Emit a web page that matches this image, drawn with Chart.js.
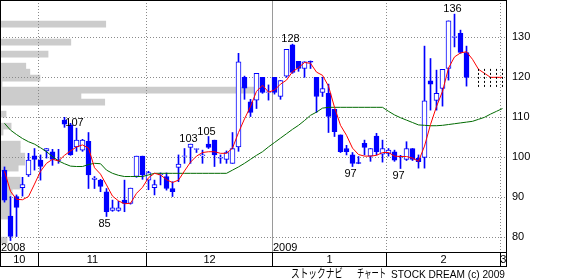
<!DOCTYPE html>
<html><head><meta charset="utf-8">
<script src="https://cdn.jsdelivr.net/npm/chart.js@4.4.0/dist/chart.umd.min.js"></script>
<style>html,body{margin:0;padding:0;background:#fff;overflow:hidden}#wrap{position:relative;width:584px;height:280px}</style>
</head><body><div id="wrap"><canvas id="c" width="584" height="280"></canvas></div>
<script>
// ---- daily candles (index 0 = 2008/10/24) ----
const open  = [96.8,85.3,90.2,92.4,95.6,100.4,99.3,101.6,101.4,99.4, 109.3,108.1,102.6,101.8,104.0,94.5,94.3,91.4,86.7,86.7, 89.3,88.5,95.2,100.3,94.3,92.4,95.6,95.2,92.2,97.5, 100.2,102.5,102.0,100.4,103.3,104.3,99.8,99.5,98.5,102.6, 120.0,113.9,114.3,120.0,116.2,120.0,115.2,120.3,128.1,124.0, 122.2,124.0,120.0,116.2,116.0,112.0,105.6,102.2,100.6,98.7, 103.5,100.3,105.3,100.8,101.0,101.4,100.3,99.5,102.2,99.8, 100.0,119.1,114.2,117.2,122.2,130.0,131.0,126.2];
const high  = [97.6,90.2,90.6,95.0,101.0,102.2,100.6,102.2,102.0,102.0, 110.0,108.5,107.3,104.5,106.2,95.2,94.5,92.2,89.3,89.0, 94.3,92.3,100.3,100.3,96.5,94.3,96.1,96.1,93.9,100.6, 102.2,103.3,102.2,101.8,105.2,104.3,100.6,101.6,106.2,126.0, 120.3,114.5,121.0,120.0,118.1,120.0,119.2,127.0,128.3,124.0, 123.9,124.1,120.0,120.0,118.3,112.0,105.6,103.0,101.2,100.2, 104.3,102.2,106.0,104.3,102.2,101.8,100.5,103.9,102.2,100.6, 127.8,124.7,121.8,122.0,134.1,135.8,131.8,127.8];
const low   = [88.8,79.2,80.2,90.3,95.2,96.8,94.3,99.8,98.0,98.5, 107.5,100.5,101.5,101.5,92.2,92.2,91.4,85.2,86.5,86.5, 86.4,88.3,95.0,94.5,91.9,90.6,93.1,91.8,90.2,93.9, 98.5,98.5,101.2,98.5,102.2,97.7,98.5,98.5,98.5,101.5, 114.5,110.2,112.2,116.0,114.3,115.8,114.5,120.0,121.0,121.5, 120.0,122.2,111.2,115.2,106.2,105.2,101.2,100.6,97.7,98.4, 100.6,99.0,100.6,98.8,100.3,99.0,97.2,99.2,99.2,97.3, 97.3,111.8,111.8,112.8,119.3,127.6,126.0,117.8];
const close = [89.3,80.2,87.5,93.2,99.3,99.5,97.7,102.2,99.5,99.2, 108.3,100.6,104.3,104.3,95.6,94.8,92.7,86.4,87.4,87.4, 88.5,92.3,100.3,95.6,96.2,93.2,95.8,92.2,91.4,98.3, 100.4,103.3,102.2,100.6,102.5,100.6,100.0,101.2,102.2,123.9, 117.3,111.2,121.0,116.2,116.4,116.2,119.2,127.0,121.2,122.2, 123.9,123.8,115.2,117.2,110.2,106.4,101.4,101.4,98.5,98.5, 102.5,102.2,101.4,102.2,101.8,99.3,100.1,102.2,99.5,98.9, 114.1,118.3,116.0,122.0,134.1,130.2,126.2,120.0];

// ---- moving averages (indices 0..83) ----
const maShort = [96.5,91.5,89.5,89.4,90.2,93.3,96.5,98.5,99.5,99.1, 100.5,101.6,102.6,103.1,102.3,97.4,95.8,93.1,90.3,89.1, 88.4,88.5,91.0,92.5,94.9,96.0,95.6,94.4,93.7,94.3, 96.6,98.8,100.3,101.2,101.4,101.4,101.0,101.0,102.3,106.2, 109.6,112.7,116.5,118.0,116.3,116.8,118.3,119.3,121.4,122.4, 123.7,123.5,121.3,120.5,117.8,112.5,108.0,105.5,102.3,100.7, 100.3,100.3,100.5,101.2,101.2,100.3,100.2,100.2,99.8,99.0, 102.8,108.2,112.7,116.5,122.3,125.1,126.1,126.4,124.5,122.0, 121.0,120.0,120.0,120.0];
const maLong = [108.5,106.8,105.7,104.7,103.9,103.3,102.4,101.4,100.2,99.1, 98.4,97.8,97.7,97.7,98.2,98.5,98.4,96.8,96.0,95.5, 95.2,95.2,95.2,95.2,95.6,96.0,96.0,96.0,96.0,96.0, 96.0,96.0,96.0,96.0,96.0,96.0,96.0,96.0,96.8,97.6, 98.5,99.5,100.5,101.4,102.6,103.7,104.8,105.9,107.0,108.0, 109.2,110.5,111.3,112.3,112.5,112.5,112.5,112.5,112.5,112.5, 112.5,112.5,112.5,112.5,111.5,110.6,109.9,109.3,108.7,108.1, 108.0,107.9,107.9,108.0,108.2,108.4,108.6,108.8,109.0,109.5, 110.0,110.8,111.5,112.2];

// ---- projected range ----
const projIdx  = [79,80,81,82,83];
const projLow  = [117.6,117.6,117.6,117.6,117.6];
const projHigh = [122.6,122.6,122.6,122.6,122.6];

// ---- volume by price ----
const profilePrice  = [133.3,128.8,125.8,122.8,121.3,119.8,118.3,116.8,115.3,113.8,110.8,107.8,106.3,103.3,101.8,100.3,98.8,97.3,94.3,92.8,91.3,89.8,88.3,86.8,85.3,79.3];
const profileVolume = [209,140,95,51,59,79,4,504,160,207,12,22,6,40,40,49,49,36,40,40,24,20,20,20,20,14];

// ---- axis / labels ----
const months = ['10','11','12','1','2','3'];
const monthFirstIdx = [0,6,24,45,64,83];
const years = ['2008','2009'];
const yearFirstIdx = [0,45];
const yTicks = [80,90,100,110,120,130];
const peakIdx  = [12,17,31,34,48,58,66,75];
const peakText = ['107','85','103','105','128','97','97','136'];
const peakSide = ['high','low','high','high','high','low','low','high'];
const footerParts = ['ストックナビ', 'チャート', 'STOCK DREAM (c) 2009'];

const FONT = "'Liberation Sans', Arial, 'Noto Sans CJK JP', sans-serif";
const JFONT = "'Noto Sans CJK JP', sans-serif";
const Y_MIN = 76.08, Y_MAX = 139.33;
const idx = open.map((_, i) => i);

const deco = {
  id: 'deco',
  afterDatasetDraw(chart, args) {
    if (args.index !== 0) return;
    const {ctx, chartArea: a, scales: {x, y}} = chart;
    ctx.save();
    ctx.lineWidth = 1;
    ctx.strokeStyle = '#8a8a8a';
    ctx.setLineDash([1, 2]);
    yTicks.forEach(v => {
      const py = Math.round(y.getPixelForValue(v)) + 0.5;
      ctx.beginPath(); ctx.moveTo(a.left, py); ctx.lineTo(a.right, py); ctx.stroke();
    });
    monthFirstIdx.slice(1).forEach(mi => {
      if (yearFirstIdx.includes(mi)) return;
      const px = Math.round(x.getPixelForValue(mi - 0.5)) + 0.5;
      ctx.beginPath(); ctx.moveTo(px, a.top); ctx.lineTo(px, a.bottom); ctx.stroke();
    });
    ctx.setLineDash([]);
    ctx.strokeStyle = '#9a9a9a';
    yearFirstIdx.slice(1).forEach(mi => {
      const px = Math.round(x.getPixelForValue(mi - 0.5)) + 0.5;
      ctx.beginPath(); ctx.moveTo(px, a.top); ctx.lineTo(px, a.bottom); ctx.stroke();
    });
    ctx.restore();
  },
  afterDraw(chart) {
    const {ctx, chartArea: a, scales: {x, y}} = chart;
    ctx.save();
    ctx.strokeStyle = '#000';
    ctx.lineWidth = 1;
    const bandTop = a.bottom - 0.5, bandBot = a.bottom + 13.5;
    ctx.beginPath();
    ctx.moveTo(a.left, 0.5); ctx.lineTo(a.right + 1, 0.5);
    ctx.moveTo(0.5, 0); ctx.lineTo(0.5, bandBot);
    ctx.moveTo(a.right + 0.5, 0); ctx.lineTo(a.right + 0.5, bandBot);
    ctx.moveTo(0, bandTop); ctx.lineTo(a.right + 1, bandTop);
    ctx.moveTo(0, bandBot); ctx.lineTo(a.right + 1, bandBot);
    ctx.stroke();
    const bpx = monthFirstIdx.map(mi => Math.round(x.getPixelForValue(mi - 0.5)) + 0.5);
    ctx.beginPath();
    bpx.slice(1).forEach(px => { ctx.moveTo(px, bandTop); ctx.lineTo(px, bandBot); });
    ctx.stroke();
    ctx.fillStyle = '#000';
    ctx.font = '11px ' + FONT;
    ctx.textAlign = 'center';
    ctx.textBaseline = 'middle';
    months.forEach((m, k) => {
      const l = k === 0 ? a.left : bpx[k];
      const r = k === months.length - 1 ? a.right : bpx[k + 1];
      ctx.fillText(m, (l + r) / 2, (bandTop + bandBot) / 2 + 0.5);
    });
    ctx.textAlign = 'left';
    ctx.textBaseline = 'alphabetic';
    years.forEach((t, k) => {
      const px = k === 0 ? a.left + 1 : Math.round(x.getPixelForValue(yearFirstIdx[k] - 0.5)) + 1;
      ctx.fillText(t, px, a.bottom - 2);
    });
    ctx.textAlign = 'center';
    peakIdx.forEach((pi, k) => {
      const px = x.getPixelForValue(pi) - 2;
      if (peakSide[k] === 'high') {
        ctx.fillText(peakText[k], px, y.getPixelForValue(high[pi]) - 2);
      } else {
        ctx.fillText(peakText[k], px, y.getPixelForValue(low[pi]) + 10);
      }
    });
    // footer
    ctx.textAlign = 'left';
    ctx.font = '12px ' + JFONT;
    ctx.fillText(footerParts[0], 291, 278, 52);
    ctx.fillText(footerParts[1], 357, 278, 29);
    ctx.textAlign = 'right';
    ctx.font = '11px ' + FONT;
    ctx.fillText(footerParts[2], a.right - 1, 277.5, 114);
    ctx.restore();
  }
};

const wickData = idx.map(i => ({x: i, y: [low[i], high[i]]}));
const bodyData = idx.map(i => ({x: i, y: [open[i], close[i]]}));
const bodyFill = idx.map(i => close[i] >= open[i] ? '#ffffff' : '#0000ff');
const projData = [];
projIdx.forEach((p, k) => {
  projData.push({x: p, y: projLow[k]}, {x: p, y: projHigh[k]}, {x: p, y: null});
});

new Chart(document.getElementById('c'), {
  type: 'bar',
  data: {
    datasets: [
      {
        type: 'bar', indexAxis: 'y', xAxisID: 'xv', yAxisID: 'yv',
        data: profilePrice.map((p, k) => ({x: profileVolume[k], y: p})),
        backgroundColor: '#cccccc', borderWidth: 0,
        barPercentage: 1, categoryPercentage: 1, grouped: false, order: 10
      },
      {
        type: 'bar', xAxisID: 'x', yAxisID: 'y', data: wickData,
        backgroundColor: '#0000ff', borderWidth: 0, barThickness: 1, grouped: false, order: 6
      },
      {
        type: 'bar', xAxisID: 'x', yAxisID: 'y', data: bodyData,
        backgroundColor: bodyFill, borderColor: '#0000ff', borderWidth: 1, borderSkipped: false,
        barThickness: 5, grouped: false, order: 5
      },
      {
        type: 'line', xAxisID: 'x', yAxisID: 'y',
        data: maLong.map((v, i) => ({x: i, y: v})),
        borderColor: '#006a00', borderWidth: 1, pointRadius: 0, tension: 0, order: 3
      },
      {
        type: 'line', xAxisID: 'x', yAxisID: 'y',
        data: maShort.map((v, i) => ({x: i, y: v})),
        borderColor: '#ff0000', borderWidth: 1, pointRadius: 0, tension: 0, order: 2
      },
      {
        type: 'line', xAxisID: 'x', yAxisID: 'y', data: projData,
        borderColor: '#000000', borderWidth: 1, borderDash: [2, 2], pointRadius: 0,
        spanGaps: false, order: 1
      }
    ]
  },
  options: {
    responsive: false, animation: false, devicePixelRatio: 1,
    layout: {padding: {left: 0, top: 0, right: 0, bottom: 27}},
    plugins: {legend: {display: false}, tooltip: {enabled: false}},
    scales: {
      x: {type: 'linear', min: -0.75, max: 83.583, offset: false, grid: {offset: false}, beginAtZero: false, display: false},
      xv: {type: 'linear', min: 0, max: 1000, offset: false, display: false},
      yv: {type: 'linear', min: Y_MIN, max: Y_MAX, offset: false, grid: {offset: false}, beginAtZero: false, display: false},
      y: {
        type: 'linear', position: 'right', min: Y_MIN, max: Y_MAX, offset: false, beginAtZero: false,
        grid: {display: false, drawTicks: false, offset: false}, border: {display: false},
        ticks: {padding: 6, color: '#000', font: {family: FONT, size: 11}},
        afterBuildTicks: s => { s.ticks = yTicks.map(v => ({value: v})); },
        afterFit: s => { s.width = 78; s.paddingTop = 0; s.paddingBottom = 0; }
      }
    }
  },
  plugins: [deco]
});
</script>
</body></html>
